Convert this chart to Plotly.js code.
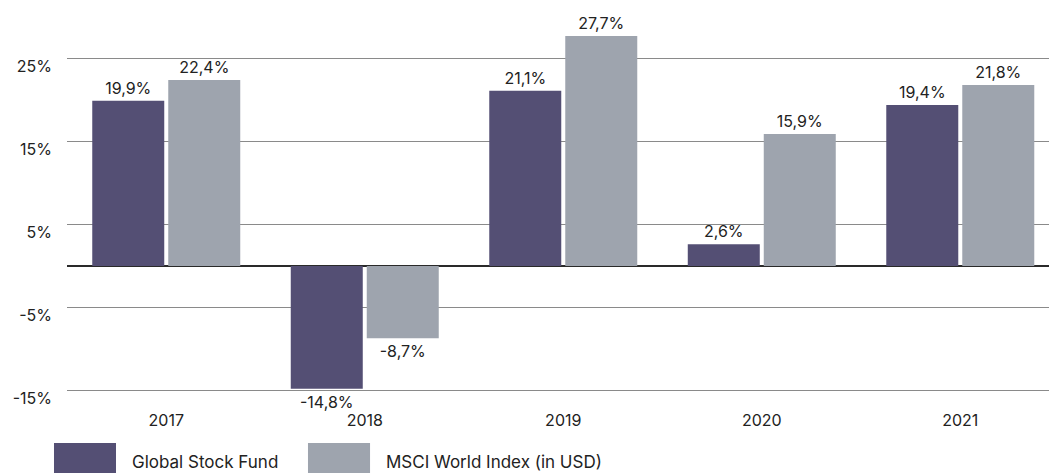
<!DOCTYPE html>
<html>
<head>
<meta charset="utf-8">
<script src="https://cdn.plot.ly/plotly-3.0.1.min.js"></script>
<style>html,body{margin:0;padding:0;background:#fff;}#chart{width:1049px;height:473px;}</style>
</head>
<body>
<div id="chart"></div>
<script>
const years = ["2017", "2018", "2019", "2020", "2021"];
const seriesNames = ["Global Stock Fund", "MSCI World Index (in USD)"];
const fundValues = [19.9, -14.8, 21.1, 2.6, 19.4];
const msciValues = [22.4, -8.7, 27.7, 15.9, 21.8];
const tickValues = [25, 15, 5, -5, -15];
const tickLabels = ["25%", "15%", "5%", "-5%", "-15%"];
const colors = ["#544F74", "#9EA4AE"];

const fmt = v => v.toFixed(1).replace('.', ',') + '%';
const FONT = 'Inter, "Liberation Sans", Arial, sans-serif';

function mk(name, vals, color) {
  return {
    type: 'bar', name: name, x: years, y: vals,
    marker: {color: color},
    text: vals.map(fmt), textposition: 'outside',
    textfont: {family: FONT, size: 16, color: '#222'},
    cliponaxis: false, hoverinfo: 'skip'
  };
}
const data = [mk(seriesNames[0], fundValues, colors[0]), mk(seriesNames[1], msciValues, colors[1])];

const shapes = [], annotations = [];
const legX = [[-0.01324, 0.0499], [0.2454, 0.3086]];
for (let i = 0; i < 2; i++) {
  shapes.push({type: 'rect', xref: 'paper', yref: 'paper', x0: legX[i][0], x1: legX[i][1],
    y0: -0.169, y1: -0.0923, fillcolor: colors[i], line: {width: 0}});
  annotations.push({xref: 'paper', yref: 'paper', x: legX[i][1] + 0.0143, y: -0.140,
    xanchor: 'left', yanchor: 'middle', showarrow: false, text: seriesNames[i],
    font: {family: FONT, size: 17, color: '#222'}});
}

const layout = {
  width: 1049, height: 473,
  margin: {l: 67, r: 0, t: 17, b: 66},
  paper_bgcolor: '#fff', plot_bgcolor: '#fff',
  showlegend: false,
  barmode: 'group', bargap: 0.2343, bargroupgap: 0.0526,
  font: {family: FONT, size: 16, color: '#222'},
  xaxis: {
    type: 'category',
    range: [-0.5, 4.447], showgrid: false, zeroline: false, showline: false,
    ticks: '', ticklabelstandoff: 2,
    tickfont: {family: FONT, size: 16, color: '#222'}, fixedrange: true
  },
  yaxis: {
    range: [-17, 30], tickvals: tickValues, ticktext: tickLabels,
    showgrid: true, gridcolor: '#8a8a8a', gridwidth: 1.5,
    zeroline: true, zerolinecolor: '#2a2a2a', zerolinewidth: 2,
    showline: false, ticks: '', ticklabelstandoff: 14, ticklabelshift: 8,
    tickfont: {family: FONT, size: 16, color: '#222'}, fixedrange: true
  },
  shapes: shapes, annotations: annotations
};
Plotly.newPlot('chart', data, layout, {displayModeBar: false, staticPlot: true});
</script>
</body>
</html>
